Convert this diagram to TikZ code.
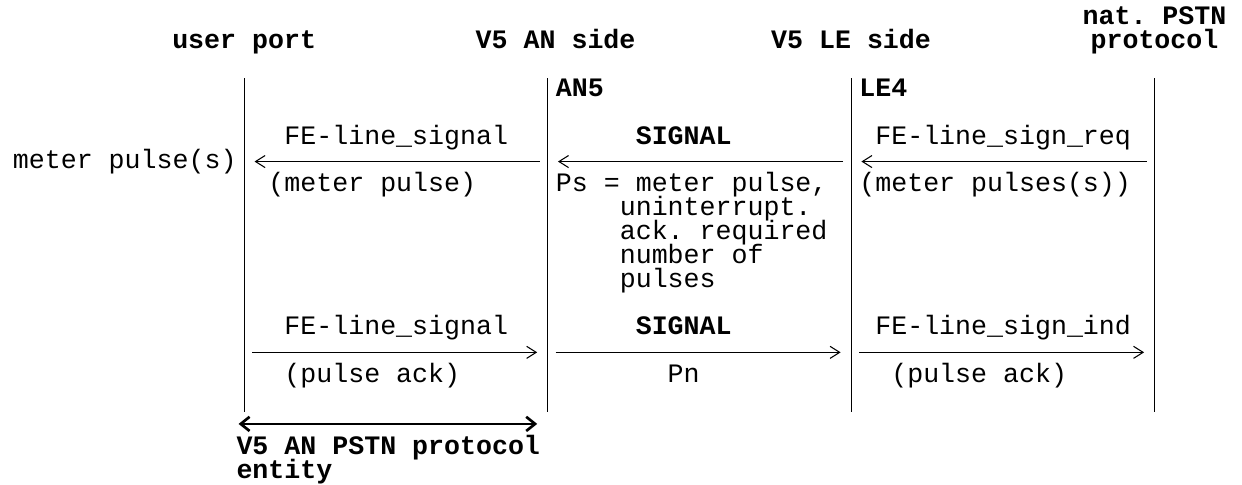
\documentclass[tikz,border=0pt]{standalone}
\usepackage{fontspec}
\setmonofont{Liberation Mono}
\usetikzlibrary{arrows.meta}
\tikzset{
  txt/.style={font=\fontsize{15pt}{18pt}\selectfont\ttfamily, inner sep=0pt,
    text height=8pt, text depth=2pt, anchor=base west, yshift=-3.66pt},
  bold/.style={txt, font=\fontsize{15pt}{18pt}\selectfont\ttfamily\bfseries},
  head/.style={bold, anchor=base},
  life/.style={line width=0.6pt},
  msg/.style={line width=0.6pt, -{Straight Barb[length=5.4pt,width=6.8pt]},
    shorten <=4.5pt, shorten >=5.85pt},
  extent/.style={line width=1.5pt,
    {Straight Barb[length=5pt,width=8pt]}-{Straight Barb[length=5pt,width=8pt]}},
}

\begin{document}
\begin{tikzpicture}[x=9pt, y=-13.44pt]
  \useasboundingbox (0.213,-3.774) rectangle (77.98,16.52);

  % headers
  \node[head] (natA) at (72.5,-3) {nat. PSTN};
  \node[head] (natB) at (72.5,-2) {protocol};
  \node[head] (upH) at (15.5,-2) {user port};
  \node[head] (anH) at (35,-2) {V5 AN side};
  \node[head] (leH) at (53.5,-2) {V5 LE side};

  % life lines
  \foreach \n/\c in {up/15.5, an/34.5, le/53.5, nat/72.5} {
    \draw[life] (\c,-0.5) coordinate (\n-top) -- (\c,13.5) coordinate (\n-bot);
    \coordinate (\n-req) at (\c,3);
    \coordinate (\n-ack) at (\c,11);
  }
  \node[bold] (an5) at (35,0) {AN5};
  \node[bold] (le4) at (54,0) {LE4};

  % meter pulse request
  \node[txt] (feSig) at (18,2) {FE-line\_signal};
  \node[bold] (sigA) at (40,2) {SIGNAL};
  \node[txt] (feReq) at (55,2) {FE-line\_sign\_req};
  \draw[msg] (an-req) -- (up-req);
  \draw[msg] (le-req) -- (an-req);
  \draw[msg] (nat-req) -- (le-req);
  \node[txt] (meter) at (1,3) {meter pulse(s)};
  \node[txt] (mp) at (17,4) {(meter pulse)};
  \node[txt] (ps) at (35,4) {Ps = meter pulse,};
  \node[txt] (mps) at (54,4) {(meter pulses(s))};
  \foreach \r/\t in {5/uninterrupt., 6/ack. required, 7/number of, 8/pulses}
    \node[txt] (ps\r) at (39,\r) {\t};

  % pulse acknowledgement
  \node[txt] (feSigB) at (18,10) {FE-line\_signal};
  \node[bold] (sigB) at (40,10) {SIGNAL};
  \node[txt] (feInd) at (55,10) {FE-line\_sign\_ind};
  \draw[msg] (up-ack) -- (an-ack);
  \draw[msg] (an-ack) -- (le-ack);
  \draw[msg] (le-ack) -- (nat-ack);
  \node[txt] (pa) at (18,12) {(pulse ack)};
  \node[txt] (pn) at (42,12) {Pn};
  \node[txt] (paB) at (56,12) {(pulse ack)};

  % protocol entity
  \coordinate (entL) at (15.15,14);
  \coordinate (entR) at (33.85,14);
  \draw[extent] (entL) -- (entR);
  \node[bold] (ent) at (15,15) {V5 AN PSTN protocol};
  \node[bold] (ent2) at (15,16) {entity};
\end{tikzpicture}
\end{document}
